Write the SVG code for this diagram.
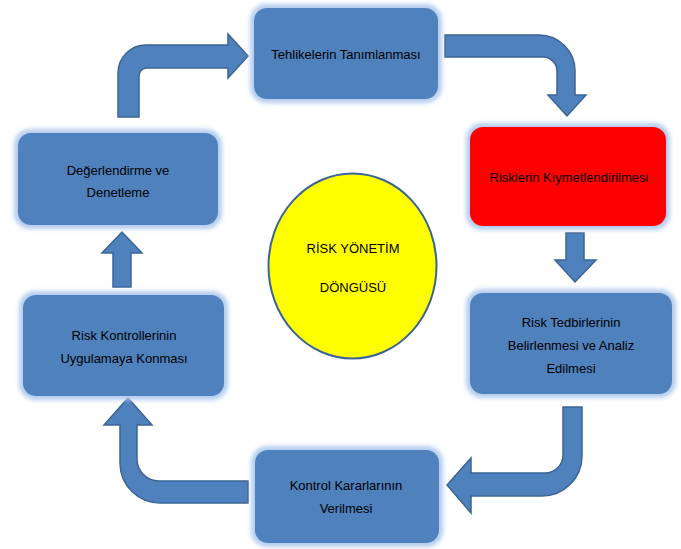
<svg xmlns="http://www.w3.org/2000/svg" width="681" height="549" viewBox="0 0 681 549">
<defs>
<filter id="glow" x="-10%" y="-10%" width="120%" height="120%">
<feGaussianBlur stdDeviation="2"/>
</filter>
</defs>
<style>
.glow{fill:#b4cdee;filter:url(#glow)}
.box{fill:#4f81bd}
.red{fill:#ff0000}
.arrow{fill:#4f81bd;stroke:#3b6495;stroke-width:1.5;stroke-linejoin:miter}
.t{font-family:"Liberation Sans",Arial,sans-serif;font-size:13px;fill:#000;text-anchor:middle}
</style>
<rect width="681" height="549" fill="#ffffff"/>
<g id="connectors">
<path class="arrow" d="M118,117 L118,73 A28,28 0 0 1 146,45 L228,45 L228,34 L248,56 L228,78 L228,68 L147,68 A8,8 0 0 0 139,76 L139,117 Z"/>
<path class="arrow" d="M445,35 L539,35 A36,36 0 0 1 575,71 L575,95 L586,95 L567,116 L548,95 L557,95 L557,71 A14,14 0 0 0 543,57 L445,57 Z"/>
<path class="arrow" d="M566,233 L584,233 L584,260 L596,260 L575,282 L555,260 L566,260 Z"/>
<path class="arrow" d="M563,407 L582,407 L582,456 A40,40 0 0 1 542,496 L471,496 L471,513 L447,485 L471,458 L471,473 L545,473 A18,18 0 0 0 563,455 Z"/>
<path class="arrow" d="M248,503 L160,503 A40,40 0 0 1 120,463 L120,425 L104,425 L128,398 L152,425 L137,425 L137,459 A22,22 0 0 0 159,481 L248,481 Z"/>
<path class="arrow" d="M113,287 L113,253 L102,253 L122,232 L142,253 L131,253 L131,287 Z"/>
</g>
<g id="n1">
<rect class="glow" x="250" y="4" width="192" height="99" rx="16"/>
<rect class="box" x="254" y="8" width="184" height="91" rx="13"/>
<text class="t" x="346" y="59">Tehlikelerin Tanımlanması</text>
</g>
<g id="n2">
<rect class="glow" x="466" y="123" width="204" height="107" rx="16"/>
<rect class="red" x="470" y="127" width="196" height="99" rx="13"/>
<text class="t" x="569" y="182">Risklerin Kıymetlendirilmesi</text>
</g>
<g id="n3">
<rect class="glow" x="466" y="289" width="210" height="109" rx="16"/>
<rect class="box" x="470" y="293" width="202" height="101" rx="13"/>
<text class="t" x="571" y="327">Risk Tedbirlerinin</text>
<text class="t" x="571" y="350">Belirlenmesi ve Analiz</text>
<text class="t" x="571" y="373">Edilmesi</text>
</g>
<g id="n4">
<rect class="glow" x="251" y="446" width="192" height="101" rx="16"/>
<rect class="box" x="255" y="450" width="184" height="93" rx="13"/>
<text class="t" x="346" y="490">Kontrol Kararlarının</text>
<text class="t" x="346" y="513">Verilmesi</text>
</g>
<g id="n5">
<rect class="glow" x="19" y="291" width="209" height="109" rx="16"/>
<rect class="box" x="23" y="295" width="201" height="101" rx="13"/>
<text class="t" x="124" y="340">Risk Kontrollerinin</text>
<text class="t" x="124" y="363">Uygulamaya Konması</text>
</g>
<g id="n6">
<rect class="glow" x="14" y="129" width="208" height="100" rx="16"/>
<rect class="box" x="18" y="133" width="200" height="92" rx="13"/>
<text class="t" x="118" y="175">Değerlendirme ve</text>
<text class="t" x="118" y="197">Denetleme</text>
</g>
<g id="center">
<ellipse cx="352.5" cy="266" rx="84" ry="92.5" fill="#ffff00" stroke="#3b6495" stroke-width="2"/>
<text class="t" x="353" y="253">RİSK YÖNETİM</text>
<text class="t" x="353" y="292">DÖNGÜSÜ</text>
</g>
</svg>
